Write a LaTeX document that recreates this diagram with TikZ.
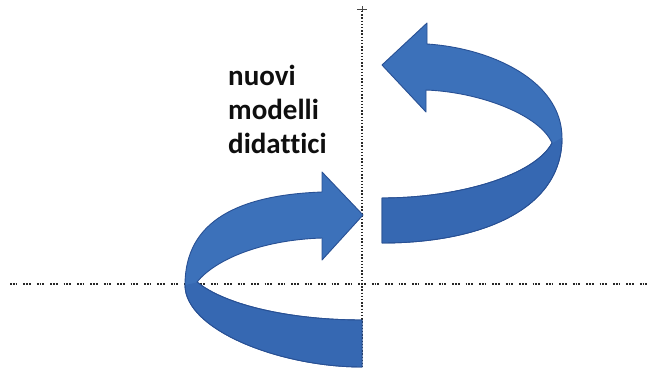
\documentclass[tikz,border=0pt]{standalone}
\usepackage{fontspec}
\setmainfont{Carlito}[Ligatures={NoCommon}]
\definecolor{ribbonfill}{RGB}{60,113,186}
\definecolor{ribbonback}{RGB}{54,104,178}
\definecolor{ribbonedge}{RGB}{40,80,148}
\definecolor{axisgray}{RGB}{40,40,40}
\definecolor{tickgray}{RGB}{70,70,70}
\definecolor{textdark}{RGB}{15,15,15}
\begin{document}
\begin{tikzpicture}[x=1pt,y=-1pt,
  ribbon/.style={fill=ribbonfill, draw=ribbonedge, line width=0.9pt, line join=round},
  backband/.style={fill=ribbonback},
  edgeline/.style={draw=ribbonedge, line width=0.9pt, line join=round},
  axisline/.style={draw=axisgray, line width=1.3pt, dash pattern=on 1.3pt off 1.9pt},
  groupdots/.style={draw=axisgray, line width=1.5pt,
    dash pattern=on 1.8pt off 1pt on 1.8pt off 1pt on 1.8pt off 6pt},
  label/.style={font=\bfseries\fontsize{29}{34}\selectfont, inner sep=0pt, anchor=base west, text=textdark}]
\useasboundingbox[fill=white] (0,0) rectangle (653,367);

% axes
\coordinate (vtop) at (362,11);
\coordinate (vbot) at (362,367);
\coordinate (hleft) at (10,284);
\coordinate (hright) at (653,284);
\draw[axisline] (vtop) -- (vbot);
\draw[groupdots] (hleft) -- (hright);
\draw[tickgray, line width=1pt] (357,9) -- (367,9) (362,6) -- (362,11);

% lower curved arrow (pointing right)
\path[ribbon] (362,367) .. controls (280,367) and (185,330) .. (185,285)
  .. controls (185,220) and (240,195) .. (322,192)
  -- (322,172) -- (363,215) -- (322,260) -- (322,238)
  .. controls (260,240) and (215,260) .. (197,282)
  .. controls (225,305) and (290,320) .. (362,320) -- cycle;
\path[backband] (361.5,366.5) .. controls (280,366.5) and (185.5,330) .. (185.5,285)
  -- (197,282.5) .. controls (225,305.5) and (290,320.5) .. (361.5,320.5) -- cycle;
\draw[edgeline]
  (362,367) .. controls (280,367) and (185,330) .. (185,285)
  (197,282) .. controls (225,305) and (290,320) .. (362,320) -- (362,367);

% upper curved arrow (pointing left)
\path[ribbon] (382,243) .. controls (480,243) and (562,210) .. (562,138)
  .. controls (562,80) and (490,48) .. (427,44)
  -- (427,23) -- (382,65) -- (426,112) -- (426,90)
  .. controls (480,92) and (540,115) .. (552,143)
  .. controls (535,175) and (460,198) .. (382,198) -- cycle;
\path[backband] (382.5,242.5) .. controls (480,242.5) and (561.5,210) .. (561.5,138)
  -- (552,143.5) .. controls (535,175.5) and (460,198.5) .. (382.5,198.5) -- cycle;
\draw[edgeline]
  (382,243) .. controls (480,243) and (562,210) .. (562,138)
  (552,143) .. controls (535,175) and (460,198) .. (382,198) -- (382,243);

% caption
\node[label] (t1) at (228,85) {nuovi};
\node[label] (t2) at (228,119) {modelli};
\node[label] (t3) at (228,153) {didattici};
\end{tikzpicture}
\end{document}
